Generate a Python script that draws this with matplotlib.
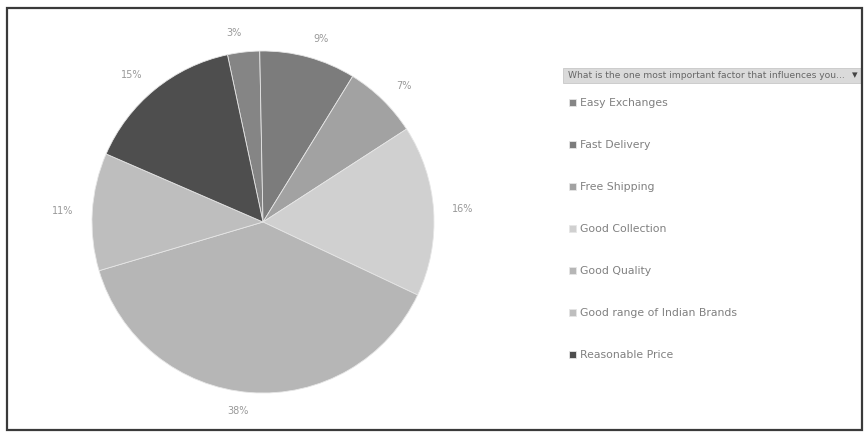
import matplotlib
matplotlib.use("Agg")
import matplotlib.pyplot as plt
from matplotlib.patches import Rectangle

# Survey answers: share of respondents per deciding factor (percent)
categories = ["Easy Exchanges", "Fast Delivery", "Free Shipping", "Good Collection",
              "Good Quality", "Good range of Indian Brands", "Reasonable Price"]
shares = [3, 9, 7, 16, 38, 11, 15]
slice_colors = ["#858585", "#7c7c7c", "#a2a2a2", "#d0d0d0", "#b6b6b6", "#bebebe", "#4e4e4e"]
question = "What is the one most important factor that influences you..."

W, H = 864, 432
fig = plt.figure(figsize=(W / 100, H / 100), dpi=100)
fig.patch.set_facecolor("white")

# pie occupies a square area on the left
cx, cy, r = 263, 222, 171
ax = fig.add_axes([(cx - r) / W, (H - cy - r) / H, 2 * r / W, 2 * r / H])
wedges, texts = ax.pie(
    shares,
    labels=[f"{v}%" for v in shares],
    colors=slice_colors,
    startangle=102,
    counterclock=False,
    labeldistance=1.11,
    wedgeprops=dict(linewidth=0.6, edgecolor="#e6e6e6"),
    textprops=dict(fontsize=7, color="#999999"),
)
ax.set_xlim(-1, 1)
ax.set_ylim(-1, 1)
ax.set_aspect("equal")
ax.axis("off")

# field selector above the legend
fig.patches.append(Rectangle((563 / W, 1 - 83 / H), 299 / W, 15 / H,
                             transform=fig.transFigure, facecolor="#dadada",
                             edgecolor="#c8c8c8", linewidth=0.6))
fig.text(568 / W, 1 - 75.5 / H, question, fontsize=6.6, color="#666666", va="center")
fig.text(855 / W, 1 - 75.5 / H, "▾", fontsize=8, color="#444444", va="center", ha="center")

leg = fig.legend(
    wedges, categories,
    loc="upper left", bbox_to_anchor=(565 / W, 1 - 94 / H),
    frameon=False, fontsize=7.8, labelcolor="#808080",
    handlelength=0.65, handleheight=0.65, handletextpad=0.35,
    labelspacing=2.95, borderaxespad=0,
)

# chart border
fig.patches.append(Rectangle((7 / W, 2 / H), 855 / W, 422 / H,
                             transform=fig.transFigure, fill=False,
                             edgecolor="#3a3a3a", linewidth=1.6))

fig.savefig("out.png", dpi=100, facecolor="white")
